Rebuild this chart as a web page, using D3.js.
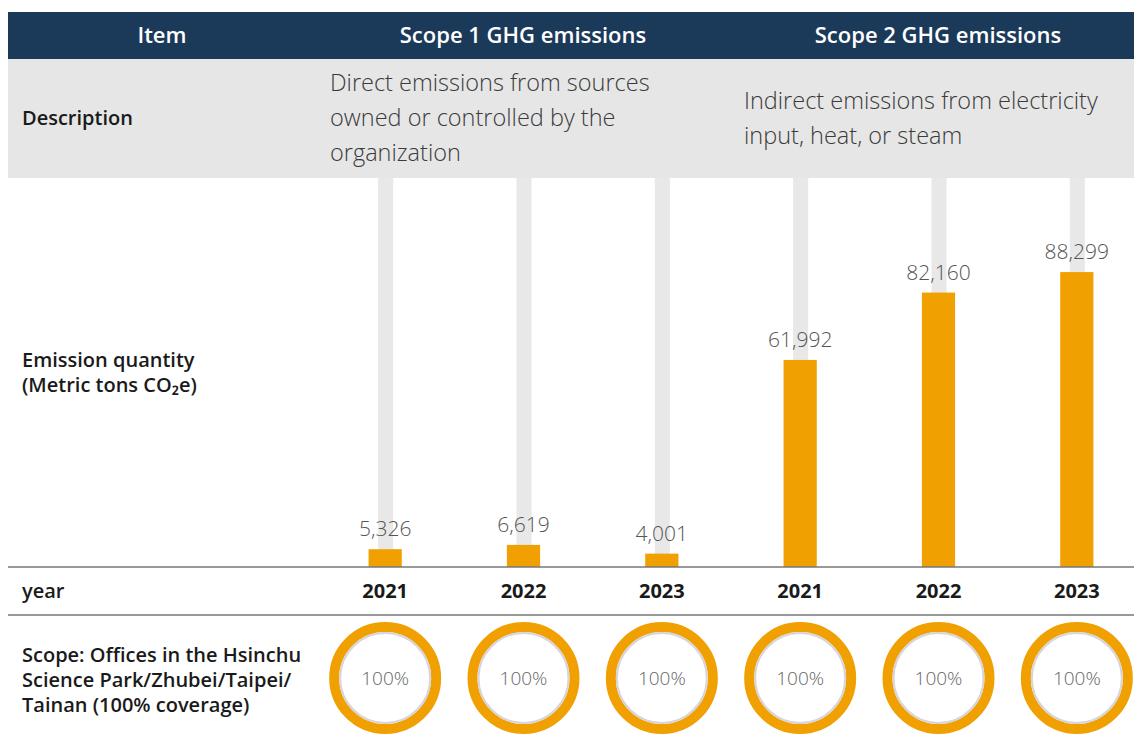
<!DOCTYPE html>
<html>
<head>
<meta charset="utf-8">
<script src="https://cdn.jsdelivr.net/npm/d3@7"></script>
<style>
  body { margin: 0; background: #fff; }
  text { font-family: "Open Sans", "Noto Sans", sans-serif; }
</style>
</head>
<body>
<script>
"use strict";

// data
var scopes = ["Scope 1 GHG emissions", "Scope 2 GHG emissions"];
var years = ["2021", "2022", "2023"];
var scope1 = [5326, 6619, 4001];
var scope2 = [61992, 82160, 88299];
var coverage = ["100%", "100%", "100%", "100%", "100%", "100%"];
var desc1 = ["Direct emissions from sources", "owned or controlled by the", "organization"];
var desc2 = ["Indirect emissions from electricity", "input, heat, or steam"];
var scopeLabel = ["Scope: Offices in the Hsinchu", "Science Park/Zhubei/Taipei/", "Tainan (100% coverage)"];

var width = 1134, height = 741;
var orange = "#f0a000", navy = "#1b3a5a";

var rows = [];
years.forEach(function(y, i) { rows.push({ scope: 0, year: y, value: scope1[i] }); });
years.forEach(function(y, i) { rows.push({ scope: 1, year: y, value: scope2[i] }); });
rows.forEach(function(d, i) { d.key = i; d.cov = coverage[i]; });

var svg = d3.select("body").append("svg")
    .attr("width", width)
    .attr("height", height);

var x = d3.scaleBand()
    .domain(rows.map(function(d) { return d.key; }))
    .range([316, 1146])
    .paddingInner(0.76)
    .paddingOuter(0.38);

var baseY = 567;
var y = d3.scaleLinear().domain([0, 100000]).range([baseY, baseY - 334]);

function cx(d) { return x(d.key) + x.bandwidth() / 2; }

// header band
svg.append("rect").attr("x", 8).attr("y", 12).attr("width", width - 8).attr("height", 47).attr("fill", navy);
var headTxt = [{ t: "Item", x: 162 }, { t: scopes[0], x: 523 }, { t: scopes[1], x: 938 }];
svg.selectAll(".head").data(headTxt).enter().append("text")
    .attr("x", function(d) { return d.x; })
    .attr("y", 43)
    .attr("text-anchor", "middle")
    .attr("fill", "#fff")
    .style("font-size", "22px")
    .style("font-weight", 600)
    .text(function(d) { return d.t; });

// description band
svg.append("rect").attr("x", 8).attr("y", 59).attr("width", width - 8).attr("height", 119).attr("fill", "#e6e6e6");
svg.append("text").attr("x", 22).attr("y", 125)
    .style("font-size", "20px").style("font-weight", 600).attr("fill", "#1a1a1a")
    .text("Description");

function lines(arr, x0, y0) {
  svg.append("g").selectAll("text").data(arr).enter().append("text")
      .attr("x", x0)
      .attr("y", function(d, i) { return y0 + i * 35; })
      .attr("fill", "#3a3a3a")
      .style("font-size", "23.5px")
      .style("font-weight", 300)
      .text(function(d) { return d; });
}
lines(desc1, 330, 91);
lines(desc2, 744, 109);

// gray tracks
svg.selectAll(".track").data(rows).enter().append("rect")
    .attr("x", function(d) { return cx(d) - 7; })
    .attr("y", 178)
    .attr("width", 15)
    .attr("height", baseY - 178)
    .attr("fill", "#e8e8e8");

// bars
svg.selectAll(".bar").data(rows).enter().append("rect")
    .attr("x", function(d) { return x(d.key); })
    .attr("y", function(d) { return y(d.value); })
    .attr("width", x.bandwidth())
    .attr("height", function(d) { return baseY - y(d.value); })
    .attr("fill", orange);

svg.selectAll(".val").data(rows).enter().append("text")
    .attr("x", cx)
    .attr("y", function(d) { return y(d.value) - 13; })
    .attr("text-anchor", "middle")
    .attr("fill", "#555")
    .style("font-size", "21px")
    .style("font-weight", 300)
    .text(function(d) { return d3.format(",")(d.value); });

// row lines
svg.selectAll(".rule").data([baseY, 615]).enter().append("line")
    .attr("x1", 8).attr("x2", width)
    .attr("y1", function(d) { return d; }).attr("y2", function(d) { return d; })
    .attr("stroke", "#777").attr("stroke-width", 1.5);

// left labels
svg.append("g").selectAll("text").data(["Emission quantity", "(Metric tons CO\u2082e)"]).enter().append("text")
    .attr("x", 22).attr("y", function(d, i) { return 367 + i * 25; })
    .style("font-size", "20px").style("font-weight", 600).attr("fill", "#1a1a1a")
    .text(function(d) { return d; });

svg.append("text").attr("x", 22).attr("y", 598)
    .style("font-size", "20px").style("font-weight", 600).attr("fill", "#1a1a1a")
    .text("year");

svg.selectAll(".yr").data(rows).enter().append("text")
    .attr("x", cx).attr("y", 598)
    .attr("text-anchor", "middle")
    .style("font-size", "20px").style("font-weight", 700).attr("fill", "#1a1a1a")
    .text(function(d) { return d.year; });

svg.append("g").selectAll("text").data(scopeLabel).enter().append("text")
    .attr("x", 22).attr("y", function(d, i) { return 662 + i * 25; })
    .style("font-size", "20px").style("font-weight", 600).attr("fill", "#1a1a1a")
    .text(function(d) { return d; });

// coverage rings
var cy = 678;
svg.selectAll(".ring").data(rows).enter().append("circle")
    .attr("cx", cx).attr("cy", cy).attr("r", 51)
    .attr("fill", "none").attr("stroke", orange).attr("stroke-width", 10);
svg.selectAll(".inner").data(rows).enter().append("circle")
    .attr("cx", cx).attr("cy", cy).attr("r", 45)
    .attr("fill", "#fff").attr("stroke", "#d8d4dc").attr("stroke-width", 2);
svg.selectAll(".cov").data(rows).enter().append("text")
    .attr("x", cx).attr("y", cy + 7)
    .attr("text-anchor", "middle")
    .attr("fill", "#666")
    .style("font-size", "19px").style("font-weight", 300)
    .text(function(d) { return d.cov; });
</script>
</body>
</html>
